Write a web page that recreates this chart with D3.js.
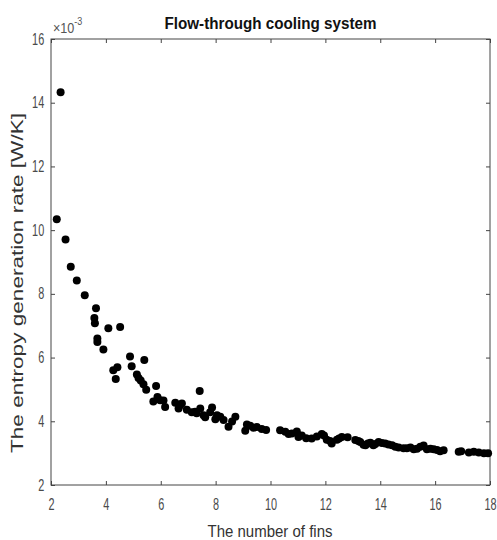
<!DOCTYPE html>
<html>
  <head>
  <title>Flow-through cooling system</title>
  <style>
    body, html { margin: 0; padding: 0; background: #fff; }
    svg { display: block; font-family: "Liberation Sans", Arial, sans-serif; }
  </style>
  </head>
  <body>

  <svg id="svg" width="497" height="540"></svg>

  <script src="https://d3js.org/d3.v7.min.js"></script>
  <script>
    // values (y in units of 1e-3 W/K)
    const fins = [2.21, 2.35, 2.53, 2.72, 2.94, 3.23, 3.58, 3.60, 3.64, 3.69, 3.69, 3.91,
      4.09, 4.27, 4.36, 4.42, 4.52, 4.88, 4.94, 5.13, 5.19, 5.27, 5.37, 5.40, 5.47, 5.73,
      5.83, 5.88, 5.98, 6.10, 6.16, 6.53, 6.65, 6.71, 6.77, 6.95, 7.13, 7.25, 7.31, 7.42,
      7.44, 7.56, 7.62, 7.80, 7.87, 7.99, 8.05, 8.17, 8.29, 8.47, 8.60, 8.72, 9.08, 9.14,
      9.26, 9.38, 9.50, 9.68, 9.84, 10.35, 10.54, 10.66, 10.78, 10.96, 11.02, 11.14, 11.30,
      11.50, 11.69, 11.87, 11.95, 12.05, 12.17, 12.23, 12.42, 12.50, 12.60, 12.81, 13.09,
      13.20, 13.27, 13.39, 13.46, 13.55, 13.64, 13.75, 13.82, 13.94, 14.06, 14.18, 14.30,
      14.43, 14.55, 14.67, 14.85, 14.97, 15.10, 15.22, 15.34, 15.46, 15.58, 15.70, 15.83,
      15.95, 16.07, 16.18, 16.31, 16.86, 16.95, 17.23, 17.41, 17.59, 17.78, 17.93]
    const entropy = [10.34, 14.33, 9.71, 8.85, 8.42, 7.96, 7.24, 7.08, 7.55, 6.60, 6.49, 6.25,
      6.92, 5.60, 5.33, 5.70, 6.96, 6.03, 5.73, 5.47, 5.36, 5.28, 5.16, 5.92, 4.99, 4.62,
      5.11, 4.76, 4.66, 4.65, 4.45, 4.58, 4.40, 4.50, 4.56, 4.36, 4.28, 4.30, 4.25, 4.95,
      4.40, 4.19, 4.13, 4.28, 4.43, 4.06, 4.19, 4.14, 4.04, 3.83, 3.99, 4.14, 3.70, 3.90,
      3.86, 3.80, 3.82, 3.76, 3.73, 3.72, 3.67, 3.60, 3.62, 3.68, 3.51, 3.55, 3.47,
      3.46, 3.52, 3.60, 3.55, 3.42, 3.38, 3.30, 3.42, 3.46, 3.51, 3.50, 3.41,
      3.38, 3.35, 3.26, 3.25, 3.30, 3.33, 3.25, 3.29, 3.35, 3.32, 3.30, 3.27,
      3.25, 3.20, 3.18, 3.15, 3.15, 3.18, 3.12, 3.14, 3.20, 3.24, 3.12, 3.14,
      3.12, 3.10, 3.06, 3.09, 3.04, 3.06, 3.02, 3.04, 3.02, 3.00, 3.00]
    const xTicks = [2, 4, 6, 8, 10, 12, 14, 16, 18]
    const yTicks = [2, 4, 6, 8, 10, 12, 14, 16]

    const margin = { top: 39, right: 7, bottom: 55, left: 51 }
    const width = 497 - (margin.left + margin.right)
    const height = 540 - (margin.top + margin.bottom)
    const sx = 0.68 // figure is squeezed horizontally

    const xscale = d3.scaleLinear().domain([2, 18]).range([margin.left, margin.left + width])
    const yscale = d3.scaleLinear().domain([2, 16]).range([margin.top + height, margin.top])

    const svg = d3.select('#svg')

    // box
    svg.append('rect')
      .attr('x', margin.left).attr('y', margin.top)
      .attr('width', width).attr('height', height)
      .attr('fill', 'none').attr('stroke', '#444').attr('stroke-width', 1)

    const styleAxis = g => {
      g.select('.domain').remove()
      g.selectAll('line').attr('stroke', '#444')
      g.selectAll('text').attr('fill', '#4a4a4a').attr('font-size', 16)
        .attr('font-family', '"Liberation Sans", Arial, sans-serif')
    }

    svg.append('g')
      .attr('transform', `translate(0, ${margin.top + height})`)
      .call(d3.axisBottom(xscale).tickValues(xTicks).tickSizeInner(-4).tickSizeOuter(0).tickPadding(14))
      .call(styleAxis)
      .call(g => g.selectAll('text').attr('transform', `scale(${sx},1)`))

    svg.append('g')
      .attr('transform', `translate(0, ${margin.top})`)
      .call(d3.axisTop(xscale).tickValues(xTicks).tickSizeInner(-4).tickSizeOuter(0).tickFormat(''))
      .call(styleAxis)

    svg.append('g')
      .attr('transform', `translate(${margin.left}, 0)`)
      .call(d3.axisLeft(yscale).tickValues(yTicks).tickSizeInner(-4).tickSizeOuter(0).tickPadding(10))
      .call(styleAxis)
      .call(g => g.selectAll('text').attr('transform', `scale(${sx},1)`))

    svg.append('g')
      .attr('transform', `translate(${margin.left + width}, 0)`)
      .call(d3.axisRight(yscale).tickValues(yTicks).tickSizeInner(-4).tickSizeOuter(0).tickFormat(''))
      .call(styleAxis)

    // exponent label
    const expo = svg.append('text')
      .attr('transform', `translate(${margin.left + 2}, 33) scale(0.9,1)`)
      .attr('font-size', 14).attr('fill', '#555')
    expo.append('tspan').text('\u00d710')
    expo.append('tspan').attr('font-size', 10).attr('dy', -8).text('-3')

    // points
    const pts = fins.map((f, i) => ({ f, e: entropy[i] }))
    svg.append('g')
      .selectAll('circle')
      .data(pts)
      .enter()
      .append('circle')
      .attr('cx', d => xscale(d.f))
      .attr('cy', d => yscale(d.e))
      .attr('r', 4)
      .attr('fill', '#000')

    // title and axis labels
    svg.append('text')
      .attr('x', margin.left + width / 2).attr('y', 29)
      .attr('text-anchor', 'middle')
      .attr('font-size', 16).attr('font-weight', 'bold').attr('fill', '#111')
      .attr('textLength', 212).attr('lengthAdjust', 'spacingAndGlyphs')
      .text('Flow-through cooling system')

    svg.append('text')
      .attr('x', 270).attr('y', 537)
      .attr('text-anchor', 'middle')
      .attr('font-size', 16).attr('fill', '#333')
      .attr('textLength', 125).attr('lengthAdjust', 'spacingAndGlyphs')
      .text('The number of fins')

    svg.append('text')
      .attr('transform', 'translate(23, 283) rotate(-90)')
      .attr('text-anchor', 'middle')
      .attr('font-size', 16).attr('fill', '#333')
      .attr('textLength', 340).attr('lengthAdjust', 'spacingAndGlyphs')
      .text('The entropy generation rate [W/K]')
  </script>
  </body>
</html>
